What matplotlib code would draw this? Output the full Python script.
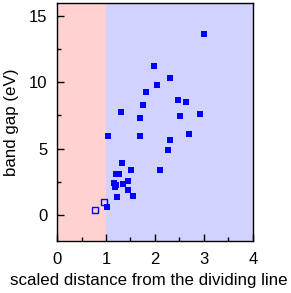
import matplotlib
matplotlib.use("Agg")
import matplotlib.pyplot as plt
from matplotlib.ticker import MultipleLocator

plt.rcParams['font.family'] = ['Liberation Sans', 'DejaVu Sans']

# filled points (scaled distance, band gap)
x_filled = [3.00, 1.99, 2.31, 2.05, 1.81, 2.47, 2.64, 1.76, 1.31, 1.70, 2.52, 2.91,
            1.04, 1.69, 2.31, 2.70, 2.26, 1.32, 1.52, 2.11, 1.20, 1.27, 1.45,
            1.17, 1.21, 1.19, 1.35, 1.44, 1.56, 1.22, 1.02]
y_filled = [13.63, 11.2, 10.3, 9.78, 9.25, 8.7, 8.5, 8.3, 7.77, 7.29, 7.49, 7.59,
            5.98, 5.91, 5.68, 6.08, 4.9, 3.9, 3.37, 3.37, 3.09, 3.09, 2.56,
            2.4, 2.25, 2.12, 2.29, 1.89, 1.41, 1.36, 0.58]
# open points
x_open = [0.95, 0.78]
y_open = [0.95, 0.37]

fig = plt.figure(figsize=(2.91, 2.93), dpi=100)
ax = fig.add_axes([0.196, 0.177, 0.673, 0.813])
ax.axvspan(0, 1, color='#FFD2D2', lw=0, zorder=0)
ax.axvspan(1, 4, color='#D2D2FF', lw=0, zorder=0)
ax.plot(x_filled, y_filled, 's', color='#0000FF', ms=5, mew=0, zorder=3)
ax.plot(x_open, y_open, 's', mfc='none', mec='#0000FF', ms=4.5, mew=1, zorder=3)
ax.set_xlim(0, 4)
ax.set_ylim(-2, 16)
ax.xaxis.set_major_locator(MultipleLocator(1))
ax.xaxis.set_minor_locator(MultipleLocator(0.5))
ax.yaxis.set_major_locator(MultipleLocator(5))
ax.yaxis.set_minor_locator(MultipleLocator(2.5))
ax.tick_params(which='both', direction='in', labelsize=12, width=1)
ax.tick_params(axis='x', pad=8)
ax.tick_params(axis='y', pad=7)
ax.tick_params(which='major', length=5)
ax.tick_params(which='minor', length=3)
for s in ax.spines.values():
    s.set_linewidth(1)
ax.set_xlabel('scaled distance from the dividing line', fontsize=12.2, labelpad=6)
ax.xaxis.set_label_coords(0.47, -0.135)
ax.set_ylabel('band gap (eV)', fontsize=12.2, labelpad=7)
fig.savefig('out.png', dpi=100)
